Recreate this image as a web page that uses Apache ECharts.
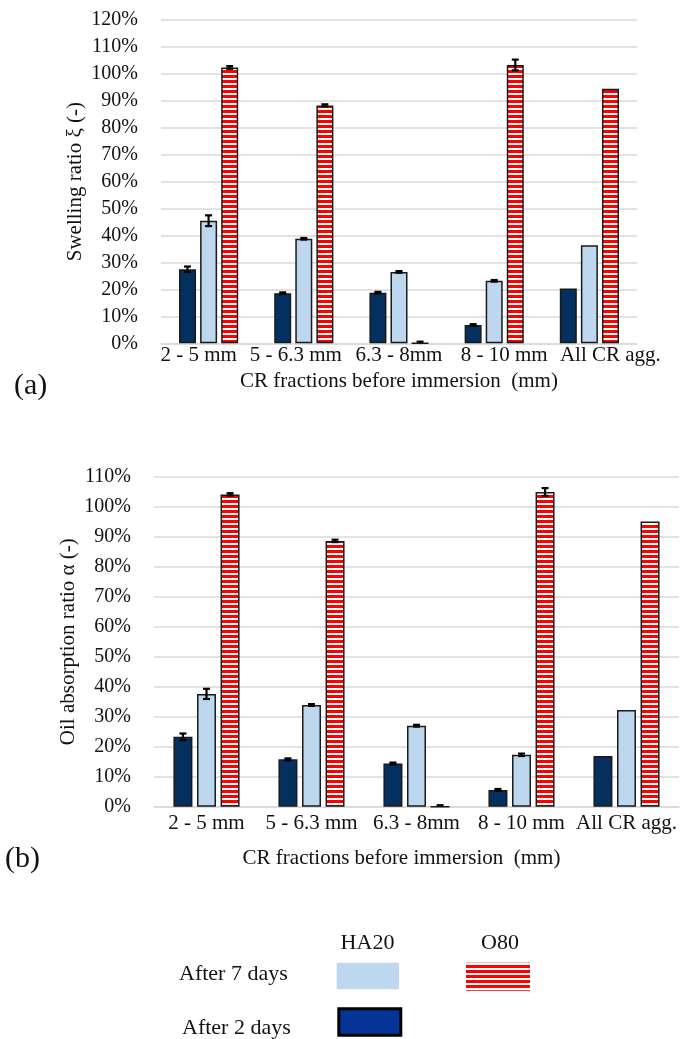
<!DOCTYPE html>
<html><head><meta charset="utf-8">
<script src="https://cdn.jsdelivr.net/npm/echarts@6/dist/echarts.min.js"></script>
<style>html,body{margin:0;padding:0;background:#fff}#c{width:683px;height:1039px}</style>
</head><body><div id="c"></div>
<script>
// ---- data ----
const categories = ['2 - 5 mm', '5 - 6.3 mm', '6.3 - 8mm', '8 - 10 mm', 'All CR agg.'];
// (a) Swelling ratio (%)
const swellHA20_2d = [27.5, 18.6, 18.8, 6.8, 20.3];
const swellHA20_7d = [45.5, 38.8, 26.5, 23.2, 36.4];
const swellO80_7d  = [102.4, 88.3, 0, 103.3, 94.5];
const swellErr2d   = [1.0, 0.3, 0.3, 0.3, 0];
const swellErr7d   = [2.0, 0.3, 0.3, 0.3, 0];
const swellErrO80  = [0.5, 0.4, 0.6, 2.0, 0];
// (b) Oil absorption ratio (%)
const oilHA20_2d = [23.3, 15.8, 14.4, 5.6, 16.9];
const oilHA20_7d = [37.6, 33.9, 27.0, 17.3, 32.2];
const oilO80_7d  = [104.1, 88.6, 0, 104.9, 95.1];
const oilErr2d   = [1.1, 0.3, 0.3, 0.3, 0];
const oilErr7d   = [1.7, 0.3, 0.3, 0.4, 0];
const oilErrO80  = [0.4, 0.4, 0.5, 1.3, 0];

// ---- styles ----
const FONT = 'Liberation Serif';
const TXT = '#111';
const DARK = '#03305E';
const LIGHT = '#BDD7EE';
const LEG_DARK = '#043596';
const BAR_GAP = 0.24;
// horizontal nudges (px) of the crowded x labels in panel (a)
const LABEL_SHIFT_A = [-10, -8, 0, 10, 21];
const LABEL_SHIFT_B = [0, 0, 0, 0, 0];

function stripeCanvas() {
  const c = document.createElement('canvas');
  c.width = 8; c.height = 5;
  const g = c.getContext('2d');
  g.fillStyle = '#ffffff'; g.fillRect(0, 0, 8, 5);
  g.fillStyle = '#ff0000'; g.fillRect(0, 0, 8, 3);
  return c;
}
const STRIPES = { image: stripeCanvas(), repeat: 'repeat' };

function bars(data, color, xi, bw) {
  return {
    type: 'bar', xAxisIndex: xi, yAxisIndex: xi, data: data, barWidth: bw,
    barGap: (BAR_GAP * 100) + '%', silent: true, animation: false,
    itemStyle: { color: color, borderColor: '#1a1a1a', borderWidth: 1.5 }
  };
}
function errs(vals, e, k, xi, bw) {
  return {
    type: 'custom', xAxisIndex: xi, yAxisIndex: xi, z: 10, silent: true, animation: false,
    data: vals.map((v, i) => [i, v, e[i]]),
    renderItem: function (params, api) {
      const i = api.value(0), v = api.value(1), er = api.value(2);
      if (!er) return null;
      const off = (k - 1) * bw * (1 + BAR_GAP);
      const hi = api.coord([i, v + er]);
      const lo = api.coord([i, Math.max(0, v - er)]);
      const x = hi[0] + off, cw = 3.5;
      const st = { stroke: '#000', lineWidth: 2.2 };
      const ch = [
        { type: 'line', shape: { x1: x, y1: hi[1], x2: x, y2: lo[1] }, style: st },
        { type: 'line', shape: { x1: x - cw, y1: hi[1], x2: x + cw, y2: hi[1] }, style: st }
      ];
      if (v - er > 0) ch.push({ type: 'line', shape: { x1: x - cw, y1: lo[1], x2: x + cw, y2: lo[1] }, style: st });
      return { type: 'group', children: ch };
    }
  };
}
function xAxis(gi, margin, nameGap, pad, shifts) {
  const rich = {};
  shifts.forEach((s, i) => {
    rich['s' + i] = { color: TXT, fontFamily: FONT, fontSize: 21,
      padding: s >= 0 ? [0, 0, 0, 2 * s] : [0, -2 * s, 0, 0] };
  });
  return {
    type: 'category', gridIndex: gi, data: categories,
    axisLine: { lineStyle: { color: '#d9d9d9', width: 1.5 } }, axisTick: { show: false },
    axisLabel: { color: TXT, fontFamily: FONT, fontSize: 21, margin: margin, interval: 0,
      formatter: (v, i) => '{s' + i + '|' + v + '}', rich: rich },
    name: 'CR fractions before immersion  (mm)', nameLocation: 'middle', nameGap: nameGap,
    nameTextStyle: { color: TXT, fontFamily: FONT, fontSize: 21, padding: pad }
  };
}
function yAxis(gi, max, name) {
  return {
    type: 'value', gridIndex: gi, min: 0, max: max, interval: 10,
    axisLine: { show: false }, axisTick: { show: false },
    splitLine: { lineStyle: { color: '#d9d9d9', width: 1.5 } },
    axisLabel: { color: TXT, fontFamily: FONT, fontSize: 20, margin: 23, formatter: '{value}%' },
    name: name, nameLocation: 'middle', nameGap: 75, nameMoveOverlap: false,
    nameTextStyle: { color: TXT, fontFamily: FONT, fontSize: 21 }
  };
}
function txt(text, x, y, size, align) {
  return { type: 'text', x: x, y: y, silent: true,
    style: { text: text, font: size + 'px "' + FONT + '"', fill: TXT, align: align || 'left', verticalAlign: 'middle' } };
}

const chart = echarts.init(document.getElementById('c'), null, { renderer: 'canvas' });
chart.setOption({
  animation: false,
  backgroundColor: '#fff',
  grid: [
    { left: 161, top: 20, width: 476, height: 323.3 },
    { left: 154, top: 476.7, width: 525, height: 330 }
  ],
  xAxis: [xAxis(0, 2, 28, [0, 0, 0, 0], LABEL_SHIFT_A), xAxis(1, 6, 41, [0, 30, 0, 0], LABEL_SHIFT_B)],
  yAxis: [yAxis(0, 120, 'Swelling ratio ξ (-)'), yAxis(1, 110, 'Oil absorption ratio α (-)')],
  series: [
    bars(swellHA20_2d, DARK, 0, 17), bars(swellHA20_7d, LIGHT, 0, 17), bars(swellO80_7d, STRIPES, 0, 17),
    errs(swellHA20_2d, swellErr2d, 0, 0, 17), errs(swellHA20_7d, swellErr7d, 1, 0, 17), errs(swellO80_7d, swellErrO80, 2, 0, 17),
    bars(oilHA20_2d, DARK, 1, 19), bars(oilHA20_7d, LIGHT, 1, 19), bars(oilO80_7d, STRIPES, 1, 19),
    errs(oilHA20_2d, oilErr2d, 0, 1, 19), errs(oilHA20_7d, oilErr7d, 1, 1, 19), errs(oilO80_7d, oilErrO80, 2, 1, 19)
  ],
  graphic: [
    txt('(a)', 14, 386, 30),
    txt('(b)', 5, 859, 30),
    txt('HA20', 367.5, 943, 22, 'center'),
    txt('O80', 500, 943, 22, 'center'),
    txt('After 7 days', 179, 974, 22),
    txt('After 2 days', 182, 1028, 22),
    { type: 'rect', silent: true, shape: { x: 336.7, y: 962.7, width: 62.3, height: 26.6 }, style: { fill: LIGHT } },
    { type: 'rect', silent: true, shape: { x: 466, y: 962.7, width: 64, height: 28 }, style: { fill: STRIPES } },
    { type: 'rect', silent: true, shape: { x: 338.8, y: 1008.8, width: 62, height: 26.4 }, style: { fill: LEG_DARK, stroke: '#000', lineWidth: 3 } }
  ]
});
</script>
</body></html>
